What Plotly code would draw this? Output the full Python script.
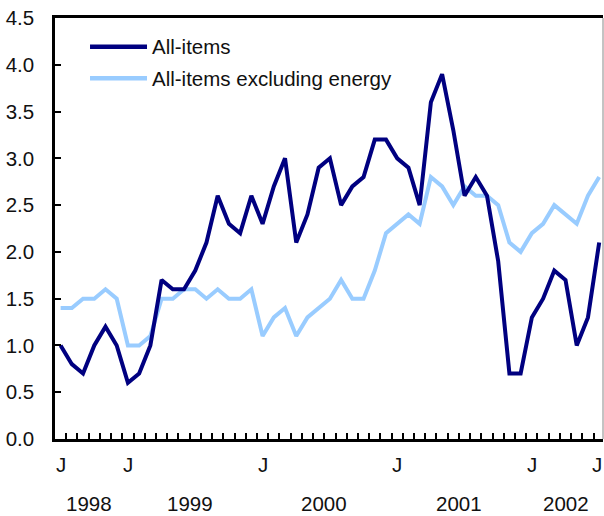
import pandas as pd
import plotly.graph_objects as go

# Monthly observations, July 1998 to July 2002
months = [p.strftime("%Y-%m") for p in pd.period_range("1998-07", "2002-07", freq="M")]

# Year-over-year percentage change
all_items = [
    1.0, 0.8, 0.7, 1.0, 1.2, 1.0,                          # 1998 Jul-Dec
    0.6, 0.7, 1.0, 1.7, 1.6, 1.6, 1.8, 2.1, 2.6, 2.3, 2.2, 2.6,  # 1999
    2.3, 2.7, 3.0, 2.1, 2.4, 2.9, 3.0, 2.5, 2.7, 2.8, 3.2, 3.2,  # 2000
    3.0, 2.9, 2.5, 3.6, 3.9, 3.3, 2.6, 2.8, 2.6, 1.9, 0.7, 0.7,  # 2001
    1.3, 1.5, 1.8, 1.7, 1.0, 1.3, 2.1,                     # 2002 Jan-Jul
]
ex_energy = [
    1.4, 1.4, 1.5, 1.5, 1.6, 1.5,
    1.0, 1.0, 1.1, 1.5, 1.5, 1.6, 1.6, 1.5, 1.6, 1.5, 1.5, 1.6,
    1.1, 1.3, 1.4, 1.1, 1.3, 1.4, 1.5, 1.7, 1.5, 1.5, 1.8, 2.2,
    2.3, 2.4, 2.3, 2.8, 2.7, 2.5, 2.7, 2.6, 2.6, 2.5, 2.1, 2.0,
    2.2, 2.3, 2.5, 2.4, 2.3, 2.6, 2.8,
]

series_names = ["All-items", "All-items excluding energy"]
series_colors = ["#000080", "#99ccff"]

# Axis labelling: "J" under each January plus both Julys at the ends
month_labels = ["1998-07", "1999-01", "2000-01", "2001-01", "2002-01", "2002-07"]
year_labels = ["1998", "1999", "2000", "2001", "2002"]
year_label_pos = [2.5, 11.5, 23.5, 35.5, 45.0]
y_tickvals = [0, 0.5, 1, 1.5, 2, 2.5, 3, 3.5, 4, 4.5]

FONT = "Liberation Sans, Arial, sans-serif"
FS = 20.5
TXT = "#111111"

fig = go.Figure()
# light line drawn first so the dark one sits on top
for name, vals, col in [(series_names[1], ex_energy, series_colors[1]),
                        (series_names[0], all_items, series_colors[0])]:
    fig.add_trace(go.Scatter(x=months, y=vals, mode="lines", name=name,
                             line=dict(color=col, width=4), showlegend=False))

fig.update_layout(
    width=604, height=516,
    margin=dict(l=55, r=1, t=18, b=77),
    paper_bgcolor="white", plot_bgcolor="white",
    font=dict(family=FONT, size=FS, color=TXT),
    xaxis=dict(
        type="category", range=[-0.5, 48.34], automargin=False,
        tickmode="array", tickvals=months, showticklabels=False,
        tickson="boundaries", ticks="inside", ticklen=6, tickwidth=1.5, tickcolor="black",
        showline=True, linecolor="black", linewidth=2.5, mirror=True,
        showgrid=False, zeroline=False,
    ),
    yaxis=dict(
        range=[0, 4.5], tickmode="array", tickvals=y_tickvals, automargin=False,
        ticktext=[f"{v:.1f}" for v in y_tickvals],
        ticks="inside", ticklen=6, tickwidth=2, tickcolor="black",
        showline=True, linecolor="black", linewidth=2.5,
        showgrid=False, zeroline=False, ticklabelstandoff=14,
        tickfont=dict(family=FONT, size=FS, color=TXT),
    ),
)

# thin right-hand frame edge
fig.add_shape(type="line", xref="paper", yref="paper", x0=1, x1=1, y0=0, y1=1,
              line=dict(color="#888888", width=1))

# month letters under the axis
for m in month_labels:
    last = m == months[-1]
    fig.add_annotation(x=1.0 if last else m, xref="paper" if last else "x",
                       y=-0.061, yref="paper", text="J", showarrow=False,
                       xanchor="right" if last else "center", yanchor="middle",
                       xshift=1 if last else 0,
                       font=dict(family=FONT, size=FS, color=TXT))

# year labels under the month letters
for txt, pos in zip(year_labels, year_label_pos):
    fig.add_annotation(x=pos, y=-0.1536, xref="x", yref="paper", text=txt,
                       showarrow=False, xanchor="center", yanchor="middle",
                       font=dict(family=FONT, size=FS, color=TXT))

# key in the upper-left corner
key_y = [0.9319, 0.8569]
for name, col, ky in zip(series_names, series_colors, key_y):
    fig.add_shape(type="line", xref="paper", yref="paper", x0=0.0639, x1=0.1679,
                  y0=ky, y1=ky, line=dict(color=col, width=4.5))
    fig.add_annotation(x=0.1734, y=ky, xref="paper", yref="paper", text=name,
                       showarrow=False, xanchor="left", yanchor="middle",
                       font=dict(family=FONT, size=FS, color=TXT))

fig.write_html("out.html")
